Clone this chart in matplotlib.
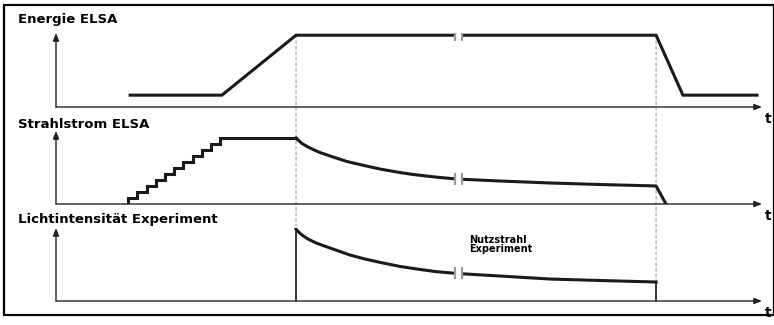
import matplotlib
matplotlib.use("Agg")
import matplotlib.pyplot as plt
from matplotlib.patches import Rectangle, ConnectionPatch

plt.rcParams['font.family'] = ['DejaVu Sans']

# Zeitachse in willkürlichen Einheiten (0..100), Werte normiert auf die Achsenhöhe
t_energy = [10.5, 23.5, 34.0, 85.0, 88.8, 99.3]
energy = [0.16, 0.16, 0.97, 0.97, 0.16, 0.16]

# Injektion: Treppenstufen
t_steps = [10.24, 10.24, 11.43, 12.84, 14.16, 15.44, 16.76, 18.03, 19.36, 20.64, 21.91, 23.23, 34.0]
i_steps = [0.0, 0.08, 0.16, 0.25, 0.33, 0.41, 0.49, 0.57, 0.66, 0.74, 0.82, 0.90, 0.90]

# Strahlstrom nach der Rampe
t_current = [34.0, 34.28, 34.84, 35.69, 36.40, 37.39, 38.81, 41.22, 43.34, 45.89, 48.30,
             50.57, 53.68, 56.80, 62.89, 69.97, 77.05, 85.0, 86.4]
current = [0.904, 0.877, 0.829, 0.781, 0.747, 0.705, 0.658, 0.582, 0.534, 0.479, 0.438,
           0.404, 0.370, 0.342, 0.315, 0.288, 0.267, 0.247, 0.0]

# Lichtintensität im Experiment
t_light = [34.0, 34.28, 34.84, 35.69, 36.97, 38.81, 41.64, 43.77, 46.30, 48.73, 51.13,
           53.68, 56.80, 62.89, 69.97, 77.05, 85.0]
light = [0.986, 0.952, 0.904, 0.849, 0.79, 0.726, 0.630, 0.575, 0.521, 0.473, 0.438,
         0.404, 0.377, 0.342, 0.301, 0.281, 0.260]

t_inj_end = 34.0
t_extr_end = 85.0
t_break = [56.5, 57.5]
break_levels = [0.97, 0.345, 0.38]

titles = ["Energie ELSA", "Strahlstrom ELSA", "Lichtintensität Experiment"]

W, H = 774, 325
fig = plt.figure(figsize=(W / 100, H / 100), dpi=100)


def px_axes(left, right, top, bottom):
    """Achse in Pixelkoordinaten (von oben gemessen) anlegen"""
    ax = fig.add_axes([left / W, 1 - bottom / H, (right - left) / W, (bottom - top) / H])
    ax.set_xlim(0, 100)
    ax.set_ylim(0, 1)
    ax.axis('off')
    ax.patch.set_visible(False)
    arrow = dict(arrowstyle='-|>,head_length=0.45,head_width=0.18', lw=1.0, color='#222222',
                 shrinkA=0, shrinkB=0)
    ax.annotate('', xy=(1, 0), xytext=(0, 0), xycoords='axes fraction', arrowprops=arrow)
    ax.annotate('', xy=(0, 1), xytext=(0, 0), xycoords='axes fraction', arrowprops=arrow)
    ax.annotate('t', xy=(1, 0), xycoords='axes fraction', xytext=(6, -12),
                textcoords='offset pixels', ha='center', va='center',
                fontsize=10, fontweight='bold')
    return ax


ax1 = px_axes(56, 762, 33, 107)
ax2 = px_axes(56, 762, 131, 204)
ax3 = px_axes(56, 762, 228, 301)

lw = 2.2
col = '#1a1a1a'
ax1.plot(t_energy, energy, color=col, lw=lw, solid_joinstyle='miter')

ax2.plot(t_steps, i_steps, color=col, lw=lw, drawstyle='steps-post', solid_joinstyle='miter')
ax2.plot(t_current, current, color=col, lw=lw, solid_joinstyle='round')

ax3.plot([t_inj_end, t_inj_end], [0, light[0]], color=col, lw=1.2)
ax3.plot(t_light, light, color=col, lw=lw, solid_joinstyle='round')
ax3.plot([t_extr_end, t_extr_end], [0, light[-1]], color=col, lw=1.2)

# Unterbrechungszeichen
for ax, lev in zip([ax1, ax2, ax3], break_levels):
    ax.plot(t_break, [lev, lev], color='white', lw=5, solid_capstyle='butt', zorder=3)
    ax.plot(t_break, [lev, lev], ls='none', marker='|', markersize=9,
            markeredgewidth=1.6, color='#9a9a9a', zorder=4)

ax3.text(58.5, 0.90, "Nutzstrahl\nExperiment", ha='left', va='top', fontsize=7,
         fontweight='bold', linespacing=0.9)

# gestrichelte Hilfslinien durch alle drei Diagramme
for t in [t_inj_end, t_extr_end]:
    con = ConnectionPatch(xyA=(t, energy[2]), coordsA=ax1.transData,
                          xyB=(t, 0), coordsB=ax3.transData,
                          color='#b5b5b5', lw=1.0, linestyle=(0, (2, 2)), zorder=-1)
    fig.add_artist(con)

for txt, y in zip(titles, [19, 124, 219]):
    fig.text(18 / W, 1 - y / H, txt, ha='left', va='center', fontsize=9.5, fontweight='bold')

fig.add_artist(Rectangle((4 / W, 10 / H), (773.5 - 4) / W, (315 - 5) / H,
                         transform=fig.transFigure, fill=False, lw=1.6, color='black'))

fig.savefig('out.png', dpi=100)
